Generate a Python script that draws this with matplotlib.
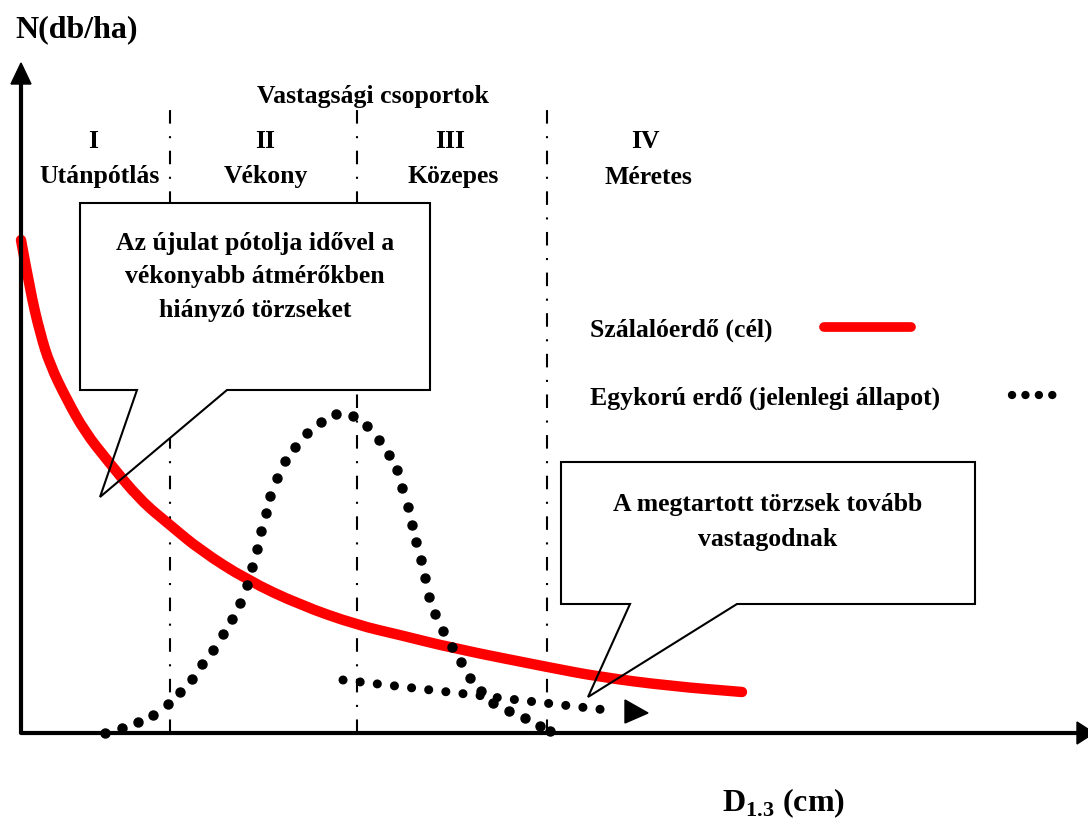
import matplotlib
matplotlib.use("Agg")
import matplotlib.pyplot as plt
from matplotlib.patches import Polygon, PathPatch
from matplotlib.path import Path

plt.rcParams['font.family'] = ['Liberation Serif', 'DejaVu Serif']
plt.rcParams['font.weight'] = 'bold'

# Szálalóerdő (cél) - target curve, D vs N (schematic units)
szalalo_d = [0, 9, 19, 29, 46, 64, 86, 119, 149, 179, 226, 279, 336, 379, 431, 526, 579, 649, 721]
szalalo_n = [493, 443, 400, 368, 333, 301, 273, 233, 208, 183, 153, 128, 108, 98, 85, 66, 56, 47, 41]

# Egykorú erdő (jelenlegi állapot) - current bell-shaped distribution (dots)
egykoru_d = [84, 101, 117, 132, 147, 159, 171, 181, 192, 202, 211, 219, 226, 231, 236, 240,
             245, 249, 256, 264, 274, 286, 300, 315, 332, 346, 358, 368, 376, 381, 387, 391,
             395, 400, 404, 408, 414, 422, 431, 440, 449, 460, 472, 488, 504, 519, 529]
egykoru_n = [0, 5, 11, 18, 29, 41, 54, 69, 83, 99, 114, 130, 148, 166, 184, 202,
             220, 237, 255, 272, 286, 300, 311, 319, 317, 307, 293, 278, 263, 245, 226, 208,
             191, 173, 155, 136, 119, 102, 86, 71, 55, 42, 30, 22, 15, 7, 2]

# shift of retained stems towards larger diameters
shift_d = [322, 594]
shift_n = [53, 22]
shift_tip = (627, 20)

# diameter groups
group_bounds = [149, 336, 526]
group_top = 633
group_numerals = ['I', 'II', 'III', 'IV']
group_names = ['Utánpótlás', 'Vékony', 'Közepes', 'Méretes']
numeral_x = [72, 244, 429, 624]
name_x = [79, 245, 432, 627]

# callouts
callout1 = [(59, 530), (409, 530), (409, 343), (206, 343), (79, 236), (116, 343), (59, 343)]
callout1_text = 'Az újulat pótolja idővel a\nvékonyabb átmérőkben\nhiányzó törzseket'
callout2 = [(540, 271), (954, 271), (954, 129), (716, 129), (567, 36), (609, 129), (540, 129)]
callout2_text = 'A megtartott törzsek tovább\nvastagodnak'

x_max, y_max = 1073, 670
fs = 18.5


def smooth_path(xs, ys):
    # quadratic bezier through midpoints, for a smooth hand-drawn look
    verts = [(xs[0], ys[0])]
    codes = [Path.MOVETO]
    for i in range(1, len(xs) - 1):
        verts += [(xs[i], ys[i]), ((xs[i] + xs[i + 1]) / 2, (ys[i] + ys[i + 1]) / 2)]
        codes += [Path.CURVE3, Path.CURVE3]
    verts.append((xs[-1], ys[-1]))
    codes.append(Path.LINETO)
    return Path(verts, codes)


fig = plt.figure(figsize=(10.88, 8.3), dpi=100)
ax = fig.add_axes([0, 0, 1, 1])
ax.set_xlim(-21, 1067)
ax.set_ylim(-97, 733)
ax.axis('off')

# axes with arrows
ax.plot([0, 0, x_max - 15], [y_max - 15, 0, 0], color='black', lw=3,
        solid_joinstyle='round', solid_capstyle='butt', zorder=6)
ax.add_patch(Polygon([(0, y_max), (-10, y_max - 21), (10, y_max - 21)], closed=True,
                     color='black', zorder=6))
ax.add_patch(Polygon([(x_max, 0), (x_max - 17, 11), (x_max - 17, -11)], closed=True,
                     color='black', zorder=6))

# group boundaries
for b in group_bounds:
    ax.plot([b, b], [0, group_top], color='black', lw=1.5,
            linestyle=(0, (6.5, 6, 1, 6)), zorder=1)

ax.text(352, 636, 'Vastagsági csoportok', ha='center', va='center', fontsize=fs)
for nx, num in zip(numeral_x, group_numerals):
    ax.text(nx, 591, num, ha='center', va='center', fontsize=fs)
for nx, name in zip(name_x, group_names):
    ax.text(nx, 556, name, ha='center', va='center', fontsize=fs)

# callout fills
for pts in (callout1, callout2):
    ax.add_patch(Polygon(pts, closed=True, facecolor='white', edgecolor='none', zorder=2))

# curves
ax.add_patch(PathPatch(smooth_path(szalalo_d, szalalo_n), facecolor='none',
                       edgecolor='#ff0000', lw=7.5, capstyle='round', joinstyle='round',
                       zorder=3))
ax.plot(egykoru_d, egykoru_n, 'o', color='black', ms=6.5, zorder=3)
ax.plot(shift_d, shift_n, color='black', lw=6.5, linestyle=(0, (0.01, 1.9)),
        dash_capstyle='round', zorder=3)
ax.add_patch(Polygon([shift_tip, (shift_tip[0] - 23, shift_tip[1] + 13),
                      (shift_tip[0] - 23, shift_tip[1] - 10)], closed=True,
                     color='black', zorder=3))

# callout outlines and texts
for pts in (callout1, callout2):
    ax.add_patch(Polygon(pts, closed=True, facecolor='none', edgecolor='black',
                         lw=1.5, joinstyle='miter', zorder=4))
ax.text(234, 456, callout1_text, ha='center', va='center', fontsize=fs, linespacing=1.6,
        zorder=5)
ax.text(747, 211, callout2_text, ha='center', va='center', fontsize=fs, linespacing=1.7,
        zorder=5)

# legend
ax.text(569, 403, 'Szálalóerdő (cél)', ha='left', va='center', fontsize=fs)
ax.plot([803, 890], [406, 406], color='#ff0000', lw=7, solid_capstyle='round')
ax.text(569, 335, 'Egykorú erdő (jelenlegi állapot)', ha='left', va='center', fontsize=fs)
ax.plot([991, 1044], [338, 338], color='black', lw=6, linestyle=(0, (0.01, 1.6)),
        dash_capstyle='round')

# axis titles
ax.text(-6, 703, 'N(db/ha)', ha='left', va='center', fontsize=23)
ax.text(763, -70, r'D$_{\mathregular{1.3}}$ (cm)', ha='center', va='center', fontsize=23)

fig.savefig('out.png', dpi=100)
